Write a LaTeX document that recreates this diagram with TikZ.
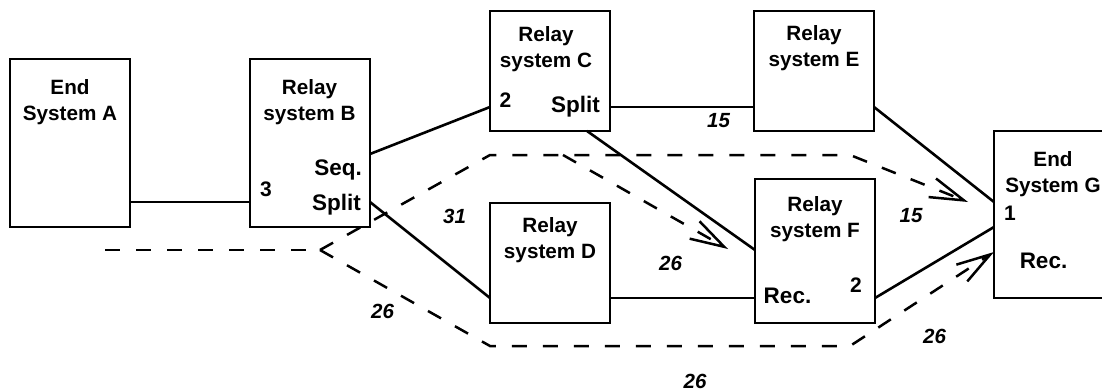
\documentclass[tikz,border=0pt]{standalone}
\usepackage{fontspec}
\setmainfont{Liberation Sans}
\usetikzlibrary{arrows.meta}
\begin{document}
\begin{tikzpicture}[x=1pt,y=-1pt,
  sysbox/.style={draw,line width=2.3pt,minimum width=120pt,inner sep=0pt,outer sep=0pt},
  title/.style={font=\fontsize{20.7}{26}\selectfont\bfseries,align=center,inner sep=0pt,anchor=north},
  ann/.style={font=\fontsize{22.5}{26}\selectfont\bfseries,inner sep=0pt,anchor=base},
  digit/.style={font=\fontsize{21}{26}\selectfont\bfseries,inner sep=0pt,anchor=base},
  num/.style={font=\fontsize{20.5}{24}\selectfont\bfseries\itshape,inner sep=0pt,anchor=base},
  link/.style={line width=2.6pt},
  route/.style={line width=2.5pt,dash pattern=on 15pt off 16pt},
  tip/.style={-{Straight Barb[length=34pt,width=20pt]}}
]
\useasboundingbox (0,0) rectangle (1102,391);
% boxes
\node[sysbox,minimum height=168pt] (A) at (70,143) {};
\node[sysbox,minimum height=168pt] (B) at (310,143) {};
\node[sysbox,minimum height=120pt] (C) at (550,71) {};
\node[sysbox,minimum height=120pt] (D) at (550,263) {};
\node[sysbox,minimum height=120pt] (E) at (814,71) {};
\node[sysbox,minimum height=144pt] (F) at (815,251) {};
\node[sysbox,minimum height=167pt] (G) at (1054,214.5) {};
% titles
\node[title] (At) at (70,79) {End\\System A};
\node[title] (Bt) at (309.5,79) {Relay\\system B};
\node[title] (Ct) at (546,26) {Relay\\system C};
\node[title] (Dt) at (550,217) {Relay\\system D};
\node[title] (Et) at (814,25) {Relay\\system E};
\node[title] (Ft) at (815,196) {Relay\\system F};
\node[title] (Gt) at (1053,151) {End\\System G};
% annotations
\node[ann,anchor=base east] (Bseq) at (362,175.5) {Seq.};
\node[ann,anchor=base east] (Bsplit) at (361,210.5) {Split};
\node[digit] (Bn) at (266,196.5) {3};
\node[digit] (Cn) at (505.5,107) {2};
\node[ann] (Csplit) at (575.5,112.5) {Split};
\node[ann] (Frec) at (787.5,303) {Rec.};
\node[digit] (Fn) at (856,292) {2};
\node[digit] (Gn) at (1010,220) {1};
\node[ann] (Grec) at (1043.5,268) {Rec.};
% numbers
\node[num] (n1) at (718.5,127) {15};
\node[num] (n2) at (454.5,223) {31};
\node[num] (n3) at (670.5,270) {26};
\node[num] (n4) at (382.5,318) {26};
\node[num] (n5) at (695,388.5) {26};
\node[num] (n6) at (911,222) {15};
\node[num] (n7) at (934.5,343) {26};
% solid links
\draw[link] (A.east |- 0,202) -- (B.west |- 0,202);
\draw[link] (B.east |- 0,154) -- (C.west |- 0,107);
\draw[link] (B.east |- 0,202) -- (D.west |- 0,298);
\draw[link] (C.east |- 0,107) -- (E.west |- 0,107);
\draw[link] (C.south -| 587,0) -- (F.west |- 0,250);
\draw[link] (D.east |- 0,298) -- (F.west |- 0,298);
\draw[link] (E.east |- 0,107) -- (G.west |- 0,202);
\draw[link] (F.east |- 0,298) -- (G.west |- 0,227);
% dashed routes
\coordinate (src) at (105,250);
\coordinate (fork) at (320,250);
\coordinate (t1) at (490,155);
\coordinate (t2) at (850,155);
\coordinate (b1) at (490,346);
\coordinate (b2) at (850,346);
\coordinate (s3) at (563,155);
\coordinate (gtip1) at (968,202);
\coordinate (ftip) at (728,249);
\draw[route] (src) -- (fork);
\draw[route,tip] (fork) -- (t1) -- (t2) -- (gtip1);
\draw[route,tip] (fork) -- (b1) -- (b2) -- (G.west |- 0,252);
\draw[route,tip] (s3) -- (ftip);
\end{tikzpicture}
\end{document}
